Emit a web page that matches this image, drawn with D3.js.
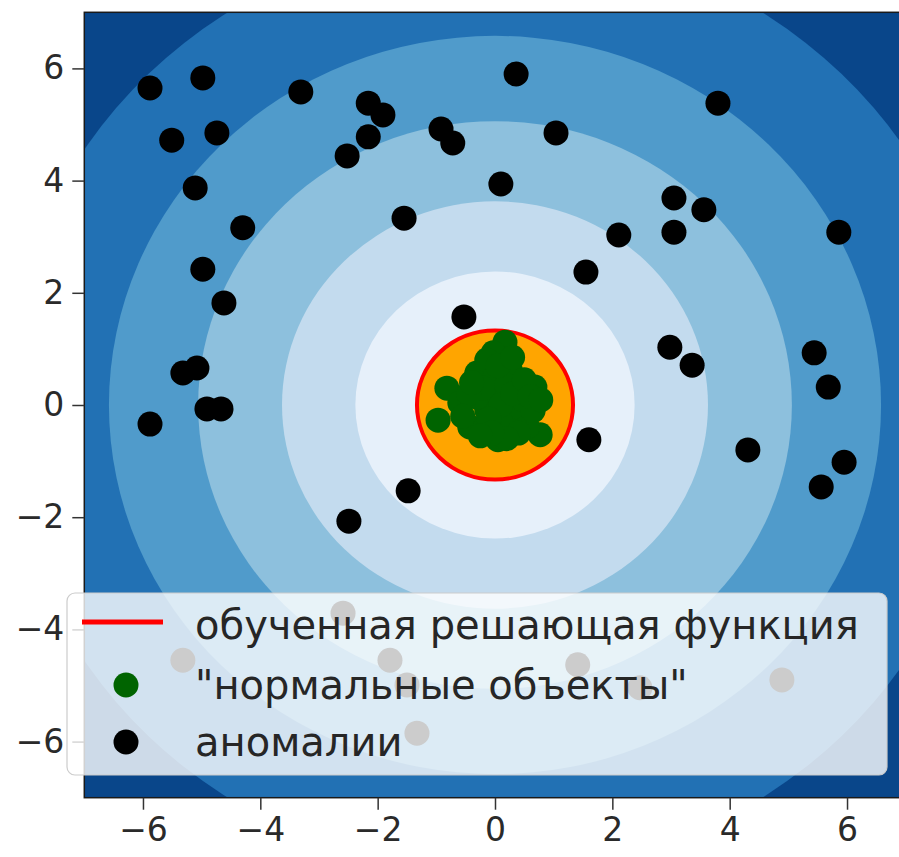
<!DOCTYPE html>
<html>
<head>
<meta charset="utf-8">
<script src="https://cdn.jsdelivr.net/npm/d3@7"></script>
<style>
  body { margin: 0; background: #fff; }
  svg { display: block; font-family: "DejaVu Sans", sans-serif; }
</style>
</head>
<body>
<svg id="chart" width="899" height="857"></svg>
<script>
// tick values on both axes
const xTicks = [-6, -4, -2, 0, 2, 4, 6];
const yTicks = [-6, -4, -2, 0, 2, 4, 6];

// radii of the contour boundaries of the decision function, outer -> inner
const levelRadii = [8.35, 6.58, 5.06, 3.63, 2.38];
// radius of the learned boundary (decision function = 0)
const boundaryRadius = 1.33;

// "normal" objects (green)
const normalX = [0.17, -0.03, -0.82, -0.97, 0.68, 0.77, 0.05, -0.31, 0.26, -0.14,
                 0.37, -0.43, 0.55, 0.03, -0.31, 0.26, -0.14, -0.60, 0.48, 0.00,
                 -0.20, 0.20, -0.45, 0.10, -0.20, 0.40, 0.65, -0.55, 0.10, 0.30,
                 -0.10, 0.50, -0.40, 0.05, 0.30, 0.20, 0.60, -0.05, 0.78, -0.25];
const normalY = [1.12, 0.93, 0.30, -0.27, 0.32, -0.53, -0.62, 0.57, 0.62, -0.09,
                 -0.14, -0.39, -0.39, 0.21, 0.14, -0.45, 0.80, 0.04, 0.09, 0.50,
                 0.30, 0.35, 0.20, -0.30, -0.45, -0.50, -0.10, -0.20, 0.00, 0.20,
                 -0.25, 0.45, 0.40, 0.70, 0.85, -0.60, 0.15, -0.50, 0.09, -0.55];

// anomalies (black)
const anomalyX = [-5.88, -4.98, -3.31, -5.51, -4.74, -5.11, -4.30, -4.98, -4.62, -5.32,
                  -5.08, -4.91, -4.67, -5.88, -2.52, -2.16, -2.16, -1.91, -1.55, -0.92,
                  -0.72, 0.36, 1.04, 0.10, 3.80, 3.05, 3.56, 3.05, 2.11, 5.86,
                  1.55, -0.53, 2.98, 3.36, 5.44, 5.68, 1.60, 4.31, 5.95, 5.56,
                  -1.48, -2.49, -2.59, -5.32, -1.79, -1.50, -1.33, 1.41, 2.47, 4.89];
const anomalyY = [5.65, 5.83, 5.58, 4.72, 4.85, 3.87, 3.16, 2.42, 1.82, 0.57,
                  0.66, -0.07, -0.07, -0.34, 4.44, 4.78, 5.38, 5.17, 3.33, 4.92,
                  4.67, 5.90, 4.85, 3.94, 5.38, 3.69, 3.48, 3.08, 3.03, 3.08,
                  2.37, 1.57, 1.03, 0.71, 0.93, 0.32, -0.62, -0.80, -1.02, -1.46,
                  -1.53, -2.07, -3.71, -4.55, -4.55, -4.99, -5.85, -4.63, -5.04, -4.90];

const legendLabels = ["обученная решающая функция", "\"нормальные объекты\"", "аномалии"];

const svg = d3.select("#chart");
const pLeft = 84.3, pRight = 905.7, pTop = 12.3, pBottom = 797.7;

const x = d3.scaleLinear().domain([-7, 7]).range([pLeft, pRight]);
const y = d3.scaleLinear().domain([-7, 7]).range([pBottom, pTop]);

// band colours: Blues_r sampled at layer midpoints
const nBands = levelRadii.length + 1;
const bandColor = i => d3.interpolateBlues(1 - (2 * i + 1) / (2 * nBands));

svg.append("clipPath").attr("id", "plot-clip")
  .append("rect")
  .attr("x", pLeft).attr("y", pTop)
  .attr("width", pRight - pLeft).attr("height", pBottom - pTop);

const plot = svg.append("g").attr("clip-path", "url(#plot-clip)");

plot.append("rect")
  .attr("x", pLeft).attr("y", pTop)
  .attr("width", pRight - pLeft).attr("height", pBottom - pTop)
  .attr("fill", bandColor(0));

plot.selectAll("ellipse.band")
  .data(levelRadii)
  .enter()
  .append("ellipse")
  .attr("class", "band")
  .attr("cx", x(0)).attr("cy", y(0))
  .attr("rx", r => x(r) - x(0))
  .attr("ry", r => y(0) - y(r))
  .attr("fill", (_, i) => bandColor(i + 1));

// learned decision boundary, filled inside
plot.append("ellipse")
  .attr("cx", x(0)).attr("cy", y(0))
  .attr("rx", x(boundaryRadius) - x(0))
  .attr("ry", y(0) - y(boundaryRadius))
  .attr("fill", "orange")
  .attr("stroke", "red")
  .attr("stroke-width", 4);

plot.selectAll("circle.normal")
  .data(d3.range(normalX.length))
  .enter()
  .append("circle")
  .attr("class", "normal")
  .attr("cx", i => x(normalX[i]))
  .attr("cy", i => y(normalY[i]))
  .attr("r", 12.5)
  .attr("fill", "darkgreen");

plot.selectAll("circle.anomaly")
  .data(d3.range(anomalyX.length))
  .enter()
  .append("circle")
  .attr("class", "anomaly")
  .attr("cx", i => x(anomalyX[i]))
  .attr("cy", i => y(anomalyY[i]))
  .attr("r", 12.5)
  .attr("fill", "black");

// frame
svg.append("rect")
  .attr("x", pLeft).attr("y", pTop)
  .attr("width", pRight - pLeft).attr("height", pBottom - pTop)
  .attr("fill", "none")
  .attr("stroke", "#1a1a1a")
  .attr("stroke-width", 1.5);

// axes
const xAxis = svg.append("g")
  .attr("transform", `translate(0,${pBottom})`)
  .call(d3.axisBottom(x).tickValues(xTicks).tickSize(12).tickPadding(8));
const yAxis = svg.append("g")
  .attr("transform", `translate(${pLeft},0)`)
  .call(d3.axisLeft(y).tickValues(yTicks).tickSize(12).tickPadding(8));

[xAxis, yAxis].forEach(a => {
  a.select(".domain").remove();
  a.selectAll(".tick line").attr("stroke", "#333").attr("stroke-width", 1.5);
  a.selectAll(".tick text")
    .attr("fill", "#2a2a2a")
    .style("font-size", "33px")
    .style("font-family", "'DejaVu Sans', sans-serif");
});

// legend
const legend = svg.append("g");
legend.append("rect")
  .attr("x", 67).attr("y", 593)
  .attr("width", 820).attr("height", 182)
  .attr("rx", 8)
  .attr("fill", "white").attr("fill-opacity", 0.8)
  .attr("stroke", "#cccccc").attr("stroke-width", 1.2);

const rowY = [625, 685, 742];
legend.append("line")
  .attr("x1", 82).attr("x2", 163)
  .attr("y1", rowY[0] - 3).attr("y2", rowY[0] - 3)
  .attr("stroke", "red").attr("stroke-width", 5);
legend.append("circle")
  .attr("cx", 126).attr("cy", rowY[1]).attr("r", 12.5).attr("fill", "darkgreen");
legend.append("circle")
  .attr("cx", 126).attr("cy", rowY[2]).attr("r", 12.5).attr("fill", "black");

legend.selectAll("text")
  .data(legendLabels)
  .enter()
  .append("text")
  .attr("x", 195)
  .attr("y", (_, i) => rowY[i])
  .attr("dy", "0.35em")
  .attr("fill", "#262626")
  .style("font-size", "40px")
  .text(d => d);
</script>
</body>
</html>
